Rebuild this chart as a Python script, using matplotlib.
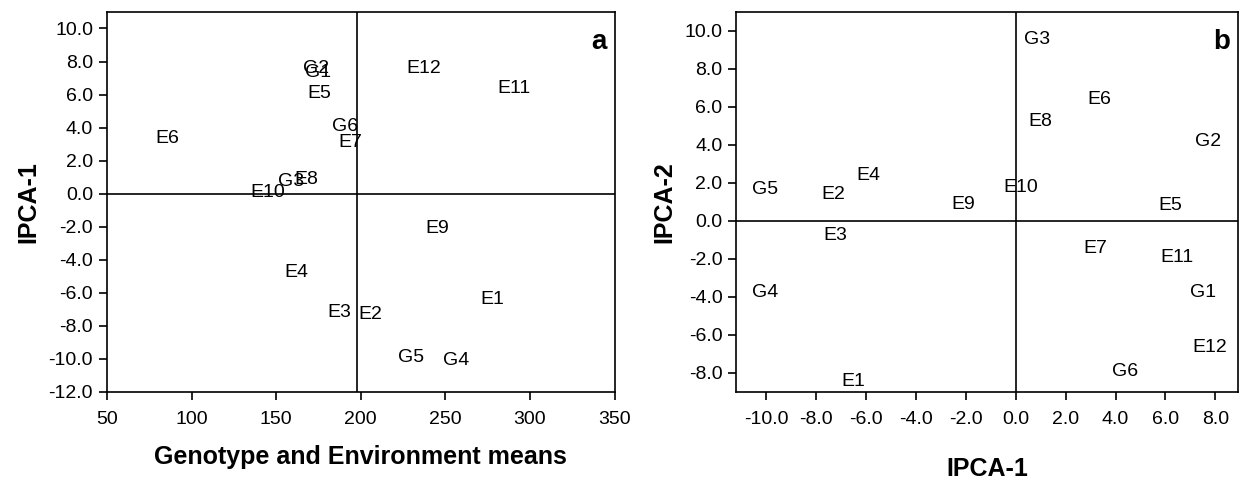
import matplotlib
matplotlib.use("Agg")
import matplotlib.pyplot as plt
import numpy as np

plt.rcParams['font.family'] = ['Liberation Sans', 'DejaVu Sans']

# Panel a: means vs IPCA-1 scores
labels_a = ['E6', 'E10', 'G3', 'E8', 'G2', 'G1', 'E5', 'G6', 'E7', 'E12', 'E11',
            'E9', 'E4', 'E3', 'E2', 'E1', 'G5', 'G4']
means_a = [85.4, 145.0, 158.6, 168.0, 173.4, 175.0, 175.7, 191.0, 194.0, 237.0, 290.8,
           245.0, 162.0, 187.5, 205.8, 277.9, 230.0, 256.6]
ipca1_a = [3.33, 0.06, 0.73, 0.85, 7.58, 7.33, 6.06, 4.06, 3.09, 7.58, 6.36,
           -2.12, -4.79, -7.2, -7.33, -6.42, -9.94, -10.1]
grand_mean = 197.6

# Panel b: IPCA-1 vs IPCA-2 scores
labels_b = ['G3', 'E6', 'E8', 'G2', 'E10', 'E9', 'E5', 'E4', 'G5', 'E2', 'E3',
            'E7', 'E11', 'G4', 'G1', 'E12', 'G6', 'E1']
ipca1_b = [0.84, 3.36, 1.0, 7.72, 0.2, -2.12, 6.2, -5.92, -10.04, -7.32, -7.24,
           3.2, 6.48, -10.04, 7.52, 7.76, 4.4, -6.52]
ipca2_b = [9.53, 6.37, 5.21, 4.16, 1.74, 0.84, 0.79, 2.37, 1.63, 1.37, -0.79,
           -1.47, -1.95, -3.79, -3.79, -6.68, -7.95, -8.47]

fig = plt.figure(figsize=(12.44, 4.79), dpi=100)
ax1 = fig.add_axes([0.086, 0.182, 0.408, 0.793])
ax2 = fig.add_axes([0.592, 0.182, 0.403, 0.793])

fmt = matplotlib.ticker.FormatStrFormatter('%.1f')


def style_axes(ax):
    for s in ax.spines.values():
        s.set_linewidth(1.2)
    ax.tick_params(direction='out', length=6, width=1.2, labelsize=14,
                   top=False, right=False)
    ax.tick_params(axis='x', pad=8)
    ax.tick_params(axis='y', pad=4)


# --- panel a ---
for lab, x, y in zip(labels_a, means_a, ipca1_a):
    ax1.text(x, y, lab, ha='center', va='center', fontsize=14)
ax1.axhline(0, color='black', lw=1.2)
ax1.axvline(grand_mean, color='black', lw=1.2)
ax1.set_xlim(50, 350)
ax1.set_ylim(-12, 11)
ax1.set_xticks(np.arange(50, 351, 50))
ax1.set_yticks(np.arange(-12, 10.1, 2))
ax1.yaxis.set_major_formatter(fmt)
ax1.set_xlabel('Genotype and Environment means', fontsize=18, fontweight='bold', labelpad=12)
ax1.set_ylabel('IPCA-1', fontsize=18, fontweight='bold', labelpad=6)
ax1.text(0.985, 0.955, 'a', transform=ax1.transAxes, ha='right', va='top',
         fontsize=20, fontweight='bold')
style_axes(ax1)

# --- panel b ---
for lab, x, y in zip(labels_b, ipca1_b, ipca2_b):
    ax2.text(x, y, lab, ha='center', va='center', fontsize=14)
ax2.axhline(0, color='black', lw=1.2)
ax2.axvline(0, color='black', lw=1.2)
ax2.set_xlim(-11.2, 8.9)
ax2.set_ylim(-9, 11)
ax2.set_xticks(np.arange(-10, 8.1, 2))
ax2.set_yticks(np.arange(-8, 10.1, 2))
ax2.xaxis.set_major_formatter(fmt)
ax2.yaxis.set_major_formatter(fmt)
ax2.set_xlabel('IPCA-1', fontsize=18, fontweight='bold', labelpad=21)
ax2.set_ylabel('IPCA-2', fontsize=18, fontweight='bold', labelpad=6)
ax2.text(0.985, 0.955, 'b', transform=ax2.transAxes, ha='right', va='top',
         fontsize=20, fontweight='bold')
style_axes(ax2)

fig.savefig('out.png', dpi=100)
